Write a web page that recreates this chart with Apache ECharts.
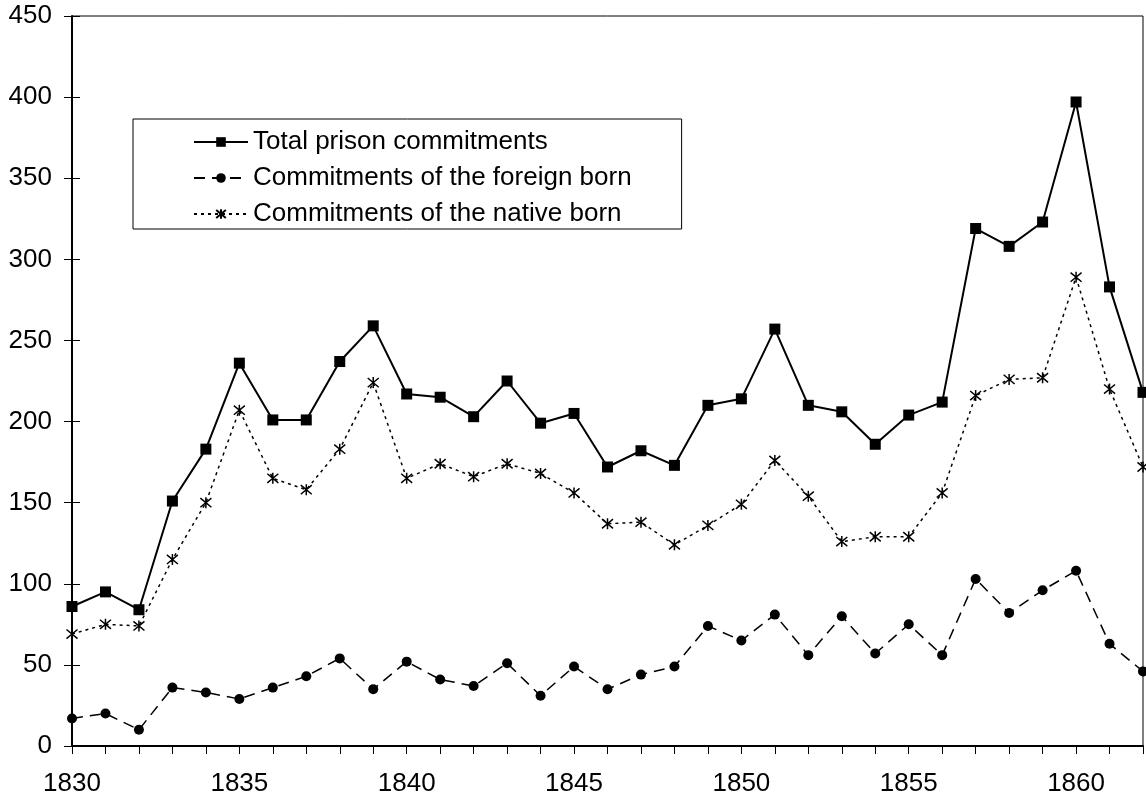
<!DOCTYPE html>
<html>
<head>
<meta charset="utf-8">
<script src="https://cdn.jsdelivr.net/npm/echarts@6/dist/echarts.min.js"></script>
<style>
  html, body { margin: 0; padding: 0; background: #fff; }
  #chart { width: 1146px; height: 800px; }
</style>
</head>
<body>
<div id="chart"></div>
<script>
// years on the x axis
var years = [1830, 1831, 1832, 1833, 1834, 1835, 1836, 1837, 1838, 1839,
  1840, 1841, 1842, 1843, 1844, 1845, 1846, 1847, 1848, 1849,
  1850, 1851, 1852, 1853, 1854, 1855, 1856, 1857, 1858, 1859,
  1860, 1861, 1862];

var totalCommitments = [86, 95, 84, 151, 183, 236, 201, 201, 237, 259,
  217, 215, 203, 225, 199, 205, 172, 182, 173, 210,
  214, 257, 210, 206, 186, 204, 212, 319, 308, 323,
  397, 283, 218];

var foreignBorn = [17, 20, 10, 36, 33, 29, 36, 43, 54, 35,
  52, 41, 37, 51, 31, 49, 35, 44, 49, 74,
  65, 81, 56, 80, 57, 75, 56, 103, 82, 96,
  108, 63, 46];

var nativeBorn = [69, 75, 74, 115, 150, 207, 165, 158, 183, 224,
  165, 174, 166, 174, 168, 156, 137, 138, 124, 136,
  149, 176, 154, 126, 129, 129, 156, 216, 226, 227,
  289, 220, 172];

var seriesNames = [
  "Total prison commitments",
  "Commitments of the foreign born",
  "Commitments of the native born"
];

function pairs(vals) {
  return years.map(function (y, i) { return [y, vals[i]]; });
}

var font = "'Liberation Sans', Arial, sans-serif";
var asterisk = "path://M0,0L10,10M10,0L0,10M5,-1L5,11";

var chart = echarts.init(document.getElementById("chart"));
var option = {
  animation: false,
  backgroundColor: "#fff",
  grid: {
    left: 72, right: 2, top: 16, bottom: 54,
    show: true, borderColor: "#000", borderWidth: 1
  },
  legend: {
    orient: "vertical",
    left: 133,
    top: 119,
    itemWidth: 54,
    itemHeight: 12,
    itemGap: 10,
    padding: [10, 50, 2, 60],
    borderColor: "#000",
    borderWidth: 1,
    backgroundColor: "#fff",
    textStyle: { fontFamily: font, fontSize: 26, color: "#000", lineHeight: 26 },
    data: seriesNames
  },
  xAxis: {
    type: "value",
    min: 1830,
    max: 1862,
    interval: 1,
    axisLine: { show: true, lineStyle: { color: "#000", width: 2 } },
    axisTick: { show: true, length: 8, lineStyle: { color: "#000", width: 1 } },
    axisLabel: {
      margin: 25,
      fontFamily: font, fontSize: 26, color: "#000",
      formatter: function (v) { return v % 5 === 0 ? String(v) : ""; }
    },
    splitLine: { show: false }
  },
  yAxis: [
    {
      type: "value",
      min: 0, max: 450, interval: 50,
      axisLine: { show: true, lineStyle: { color: "#000", width: 2 } },
      axisTick: { show: true, length: 8, lineStyle: { color: "#000", width: 1 } },
      axisLabel: { margin: 20, fontFamily: font, fontSize: 26, color: "#000" },
      splitLine: { show: false }
    },
    {
      // inside half of the crossing ticks
      type: "value",
      position: "left",
      min: 0, max: 450, interval: 50,
      axisLine: { show: false },
      axisTick: { show: true, inside: true, length: 8, lineStyle: { color: "#000", width: 1 } },
      axisLabel: { show: false },
      splitLine: { show: false }
    }
  ],
  series: [
    {
      name: seriesNames[0],
      type: "line",
      data: pairs(totalCommitments),
      symbol: "rect",
      symbolSize: 11,
      itemStyle: { color: "#000" },
      lineStyle: { color: "#000", width: 2, type: "solid" }
    },
    {
      name: seriesNames[1],
      type: "line",
      data: pairs(foreignBorn),
      symbol: "circle",
      symbolSize: 10,
      itemStyle: { color: "#000" },
      lineStyle: { color: "#000", width: 1.5, type: [11, 7] }
    },
    {
      name: seriesNames[2],
      type: "line",
      data: pairs(nativeBorn),
      symbol: asterisk,
      symbolSize: 11,
      itemStyle: { color: "#000", borderColor: "#000", borderWidth: 1.5 },
      lineStyle: { color: "#000", width: 1.5, type: [3, 4] }
    }
  ]
};
chart.setOption(option);
</script>
</body>
</html>
